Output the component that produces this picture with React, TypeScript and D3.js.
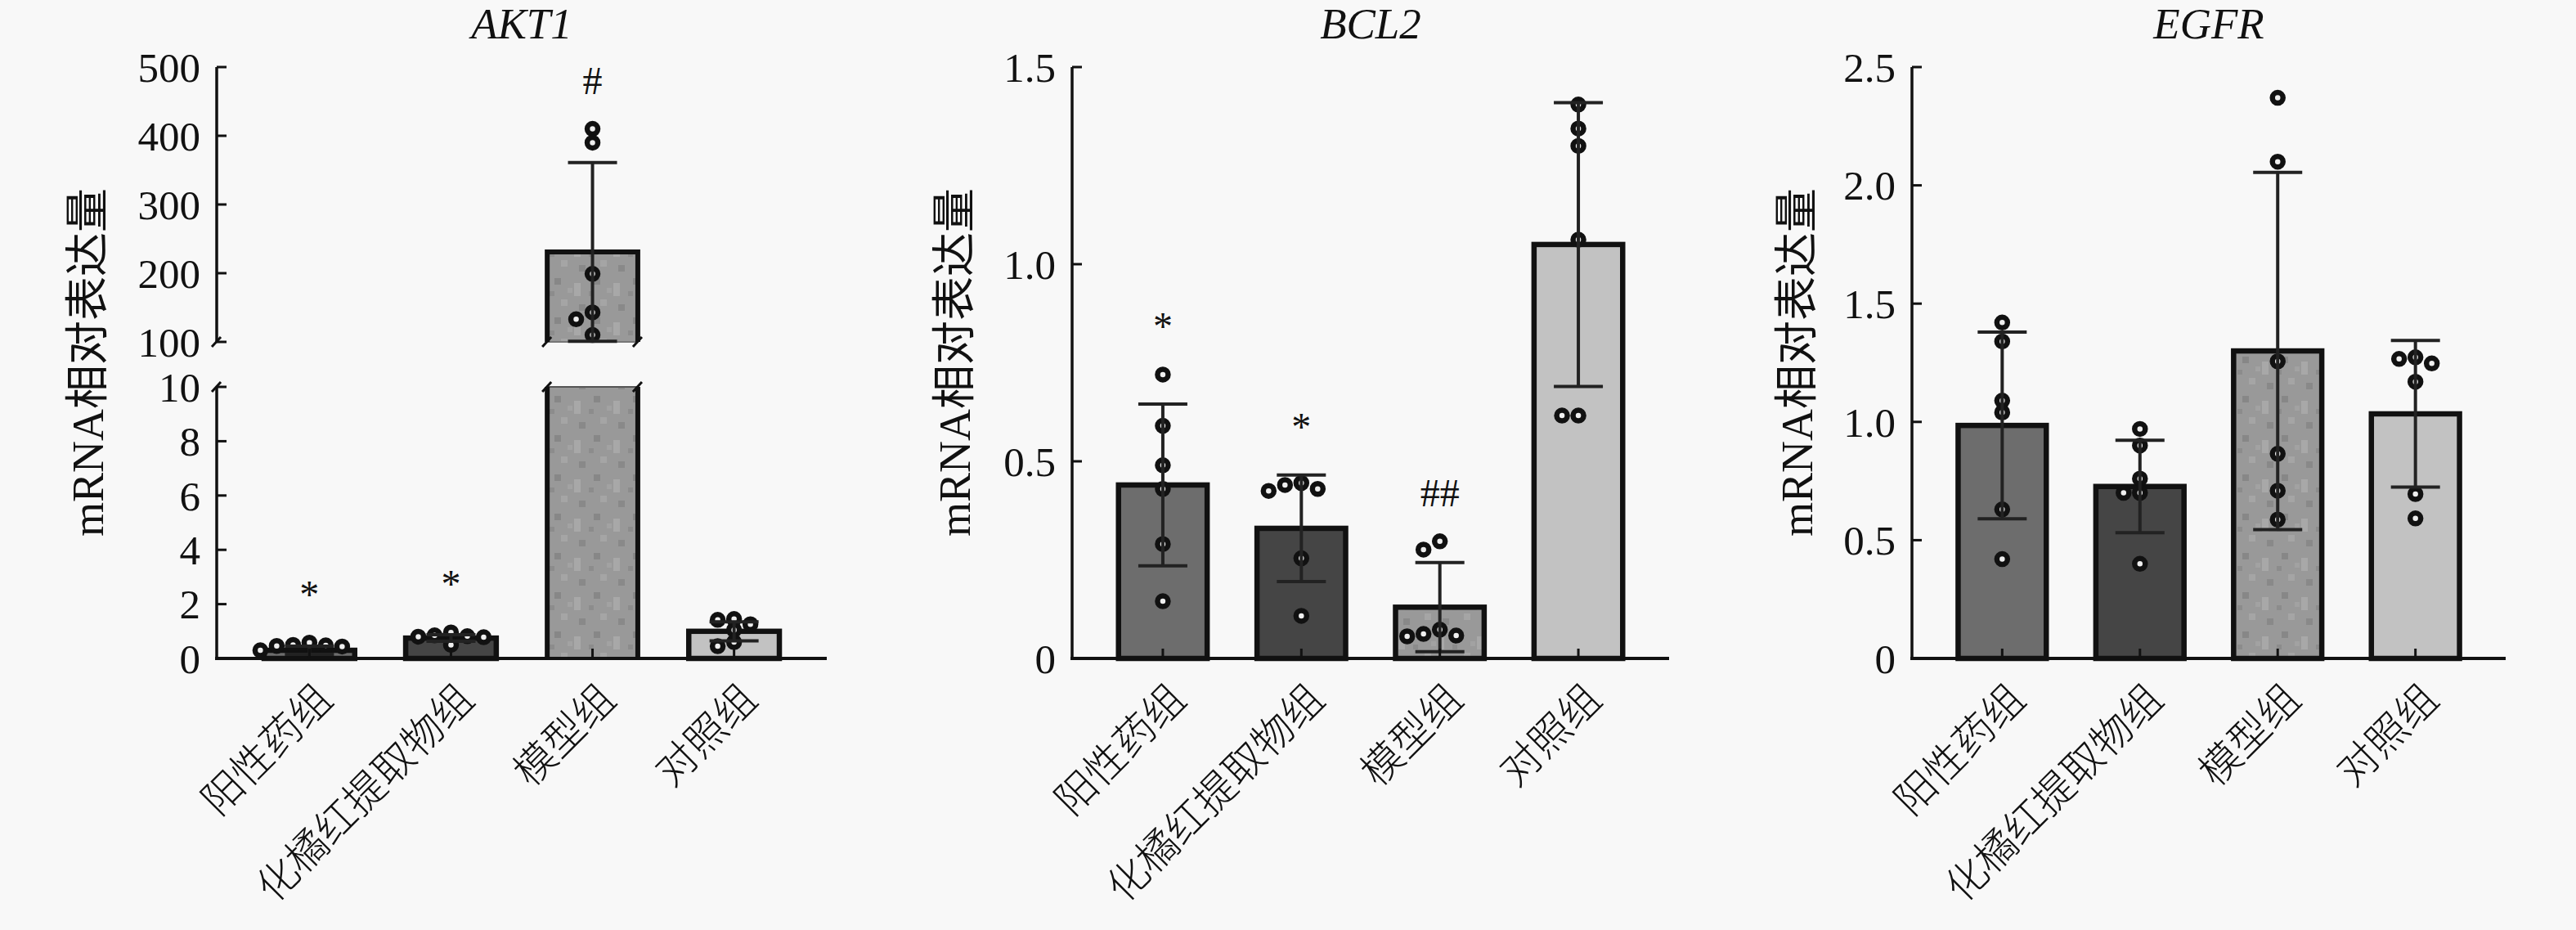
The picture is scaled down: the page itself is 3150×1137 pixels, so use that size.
import * as d3 from 'd3';

const groups = ['阳性药组', '化橘红提取物组', '模型组', '对照组'];

// AKT1 (broken y axis: 0-10 and 100-500)
const akt1Means = [0.3, 0.75, 231, 1.0];
const akt1Sds = [0.15, 0.12, 130, 0.35];
const akt1Points = [
  [0.58, 0.5, 0.48, 0.46, 0.44, 0.3],
  [0.96, 0.85, 0.82, 0.8, 0.78, 0.5],
  [410, 390, 199, 143, 133, 110],
  [1.45, 1.42, 1.26, 1.05, 0.6, 0.45],
];
const akt1Marks = ['*', '*', '#', ''];
const akt1LowTicks = [0, 2, 4, 6, 8, 10];
const akt1HighTicks = [100, 200, 300, 400, 500];

// BCL2
const bcl2Means = [0.44, 0.33, 0.13, 1.05];
const bcl2Sds = [0.205, 0.135, 0.113, 0.36];
const bcl2Points = [
  [0.72, 0.59, 0.49, 0.43, 0.29, 0.145],
  [0.445, 0.44, 0.43, 0.425, 0.254, 0.108],
  [0.297, 0.276, 0.073, 0.062, 0.058, 0.056],
  [1.405, 1.344, 1.3, 1.062, 0.616, 0.616],
];
const bcl2Marks = ['*', '*', '##', ''];
const bcl2Ticks = [0, 0.5, 1.0, 1.5];

// EGFR
const egfrMeans = [0.985, 0.727, 1.3, 1.034];
const egfrSds = [0.395, 0.195, 0.755, 0.31];
const egfrPoints = [
  [1.42, 1.34, 1.09, 1.04, 0.63, 0.42],
  [0.97, 0.9, 0.76, 0.7, 0.7, 0.4],
  [2.37, 2.1, 1.256, 0.865, 0.709, 0.587],
  [1.273, 1.266, 1.247, 1.17, 0.695, 0.592],
];
const egfrMarks = ['', '', '', ''];
const egfrTicks = [0, 0.5, 1.0, 1.5, 2.0, 2.5];

const W = 3150;
const H = 1137;
const TOP = 82;
const BASE = 805;
const BG = '#f8f8f8';
const INK = '#111';
const SERIF = "'Liberation Serif', 'Times New Roman', 'Noto Sans CJK SC', serif";
const CJK = "'Noto Sans CJK SC', 'Liberation Serif', sans-serif";
const fills = ['#6d6d6d', '#454545', 'url(#speckle)', '#c2c2c2'];
const DOT_R = 6.5;
const DOT_W = 6.5;

// simple beeswarm: keep dots on the centre line unless they overlap too much
function swarm(ys: number[], d: number, minGap: number) {
  const order = d3.range(ys.length).sort((a, b) => ys[a] - ys[b]);
  const placed: { x: number; y: number }[] = [];
  const out: number[] = new Array(ys.length).fill(0);
  for (const i of order) {
    for (let k = 0; k < 40; k++) {
      const off = k === 0 ? 0 : (k % 2 ? -1 : 1) * Math.ceil(k / 2) * d;
      if (placed.every(p => Math.hypot(p.x - off, p.y - ys[i]) >= minGap)) {
        placed.push({ x: off, y: ys[i] });
        out[i] = off;
        break;
      }
    }
  }
  return out;
}

interface PanelProps {
  title: string;
  means: number[];
  sds: number[];
  points: number[][];
  marks: string[];
  ticks: number[];
  left: number;
  right: number;
  labelDx: number;
  broken?: boolean;
}

function Panel({ title, means, sds, points, marks, ticks, left, right, labelDx, broken }: PanelProps) {
  const low = d3.scaleLinear().domain([0, 10]).range([BASE, 473]);
  const high = d3.scaleLinear().domain([100, 500]).range([418, TOP]);
  const lin = d3.scaleLinear().domain([0, d3.max(ticks) as number]).range([BASE, TOP]);
  const y = (v: number) => (broken ? (v > 10 ? high(Math.max(v, 100)) : low(v)) : lin(v));

  const x = d3.scalePoint<string>().domain(groups).range([left, right]).padding(0.655);
  const bw = x.step() * 0.64;
  const cap = 30;
  const fmt = (v: number) => (v === 0 ? '0' : broken ? String(v) : v.toFixed(1));

  const tickList = broken
    ? [...akt1LowTicks.map(v => ({ v, py: low(v) })), ...akt1HighTicks.map(v => ({ v, py: high(v) }))]
    : ticks.map(v => ({ v, py: lin(v) }));

  const slash = (sx: number, sy: number, key: string) => (
    <line key={key} x1={sx - 6} y1={sy + 6} x2={sx + 5} y2={sy - 6} stroke={INK} strokeWidth={3} />
  );

  return (
    <g>
      <text x={(left + right) / 2} y={47} textAnchor="middle" fontFamily={SERIF} fontStyle="italic"
        fontSize={53} fill={INK}>{title}</text>

      {/* bars */}
      {groups.map((g, i) => {
        const cx = x(g) as number;
        const m = means[i];
        if (broken && m > 10) {
          const yl = low(10);
          const yt = high(m);
          const yb = high(100);
          return (
            <g key={g}>
              <rect x={cx - bw / 2} y={yl} width={bw} height={BASE - yl} fill={fills[i]} />
              <line x1={cx - bw / 2} x2={cx + bw / 2} y1={yl} y2={yl} stroke="#555" strokeWidth={2} />
              <line x1={cx - bw / 2} x2={cx - bw / 2} y1={yl} y2={BASE} stroke={INK} strokeWidth={6} />
              <line x1={cx + bw / 2} x2={cx + bw / 2} y1={yl} y2={BASE} stroke={INK} strokeWidth={6} />
              <rect x={cx - bw / 2} y={yt} width={bw} height={yb - yt} fill={fills[i]} />
              <line x1={cx - bw / 2} x2={cx + bw / 2} y1={yb} y2={yb} stroke="#777" strokeWidth={2} />
              <path d={`M${cx - bw / 2},${yb}V${yt}H${cx + bw / 2}V${yb}`} fill="none" stroke={INK} strokeWidth={6} />
              {slash(cx - bw / 2, yb, 'a')}
              {slash(cx + bw / 2, yb, 'b')}
              {slash(cx - bw / 2, yl, 'c')}
              {slash(cx + bw / 2, yl, 'd')}
            </g>
          );
        }
        const yt = y(m);
        return (
          <rect key={g} x={cx - bw / 2} y={yt} width={bw} height={BASE - yt}
            fill={fills[i]} stroke={INK} strokeWidth={6.5} />
        );
      })}

      {/* points */}
      {groups.map((g, i) => {
        const cx = x(g) as number;
        const ys = points[i].map(y);
        const offs = swarm(ys, 20, 12);
        return (
          <g key={g}>
            {ys.map((py, j) => (
              <circle key={j} cx={cx + offs[j]} cy={py} r={DOT_R} fill="#efefef" stroke={INK} strokeWidth={DOT_W} />
            ))}
          </g>
        );
      })}

      {/* error bars */}
      {groups.map((g, i) => {
        const cx = x(g) as number;
        const m = means[i];
        const lo = broken && m > 10 ? Math.max(m - sds[i], 101) : Math.max(m - sds[i], 0);
        const y1 = y(m + sds[i]);
        const y2 = y(lo);
        return (
          <g key={g} stroke="#222" strokeWidth={4}>
            <line x1={cx} x2={cx} y1={y1} y2={y2} />
            <line x1={cx - cap} x2={cx + cap} y1={y1} y2={y1} />
            <line x1={cx - cap} x2={cx + cap} y1={y2} y2={y2} />
          </g>
        );
      })}

      {/* significance marks */}
      {groups.map((g, i) => {
        if (!marks[i]) return null;
        const cx = x(g) as number;
        const topPx = Math.min(y(means[i] + sds[i]), ...points[i].map(y)) - DOT_R - DOT_W / 2;
        return (
          <text key={g} x={cx} y={topPx - 33} textAnchor="middle" fontFamily={SERIF} fontSize={48} fill={INK}>
            {marks[i]}
          </text>
        );
      })}

      {/* y axis */}
      {broken ? (
        <g>
          <line x1={left} x2={left} y1={low(10)} y2={BASE} stroke={INK} strokeWidth={3.5} />
          <line x1={left} x2={left} y1={TOP} y2={high(100)} stroke={INK} strokeWidth={3.5} />
          {slash(left, high(100), 'ya')}
          {slash(left, low(10), 'yb')}
        </g>
      ) : (
        <line x1={left} x2={left} y1={TOP} y2={BASE} stroke={INK} strokeWidth={3.5} />
      )}
      {tickList.map(t => (
        <g key={`${t.v}-${t.py}`}>
          <line x1={left} x2={left + 12} y1={t.py} y2={t.py} stroke={INK} strokeWidth={3} />
          <text x={left - 20} y={t.py} dy="0.35em" textAnchor="end" fontFamily={SERIF} fontSize={51} fill={INK}>
            {fmt(t.v)}
          </text>
        </g>
      ))}

      {/* x axis */}
      <line x1={left - 2} x2={right} y1={BASE} y2={BASE} stroke={INK} strokeWidth={4} />
      {groups.map(g => {
        const cx = x(g) as number;
        return (
          <g key={g}>
            <line x1={cx} x2={cx} y1={BASE} y2={BASE - 12} stroke={INK} strokeWidth={3} />
            <text transform={`translate(${cx + 31},${BASE + 53}) rotate(-45)`} textAnchor="end"
              fontFamily={CJK} fontWeight={300} fontSize={50} fill={INK}>{g}</text>
          </g>
        );
      })}

      <text transform={`translate(${left - labelDx},${443}) rotate(-90)`} textAnchor="middle"
        fontFamily={SERIF} fontSize={54} fill={INK}>mRNA相对表达量</text>
    </g>
  );
}

export default function App() {
  return (
    <svg width={W} height={H} style={{ position: 'absolute', left: 0, top: 0, display: 'block' }}>
      <defs>
        <pattern id="speckle" width={48} height={48} patternUnits="userSpaceOnUse">
          <rect width={48} height={48} fill="#999" />
          <rect x={6} y={4} width={8} height={8} fill="#878787" />
          <rect x={30} y={10} width={8} height={16} fill="#a8a8a8" />
          <rect x={14} y={30} width={8} height={8} fill="#a5a5a5" />
          <rect x={36} y={36} width={8} height={8} fill="#898989" />
          <rect x={0} y={20} width={6} height={6} fill="#8c8c8c" />
          <rect x={22} y={16} width={6} height={6} fill="#a2a2a2" />
        </pattern>
      </defs>
      <rect width={W} height={H} fill={BG} />
      <Panel title="AKT1" means={akt1Means} sds={akt1Sds} points={akt1Points} marks={akt1Marks}
        ticks={akt1LowTicks} left={265} right={1011} labelDx={139} broken />
      <Panel title="BCL2" means={bcl2Means} sds={bcl2Sds} points={bcl2Points} marks={bcl2Marks}
        ticks={bcl2Ticks} left={1311} right={2041} labelDx={125} />
      <Panel title="EGFR" means={egfrMeans} sds={egfrSds} points={egfrPoints} marks={egfrMarks}
        ticks={egfrTicks} left={2338} right={3064} labelDx={122} />
    </svg>
  );
}
